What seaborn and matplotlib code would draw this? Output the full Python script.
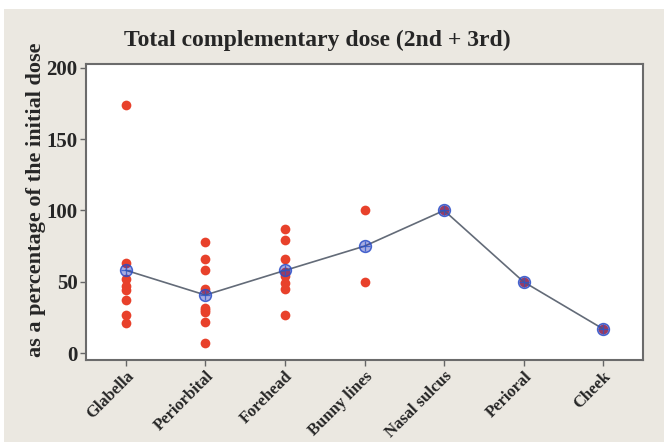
import pandas as pd
import matplotlib.pyplot as plt
import seaborn as sns
from matplotlib.patches import Rectangle

# regiones y dosis complementaria (% de la dosis inicial)
regiones = ['Glabella', 'Periorbital', 'Forehead', 'Bunny lines', 'Nasal sulcus', 'Perioral', 'Cheek']
glabella = [174, 63, 52, 47, 44, 37, 27, 21]
periorbital = [78, 66, 58, 45, 32, 30, 29, 22, 7]
forehead = [87, 79, 66, 57, 54, 49, 45, 27]
bunny = [100, 50]
nasal = [100]
perioral = [50]
cheek = [17]

valores = [glabella, periorbital, forehead, bunny, nasal, perioral, cheek]
data = pd.DataFrame({
    'region': [r for r, v in zip(regiones, valores) for _ in v],
    'dosis': [x for v in valores for x in v],
})

fondo = '#ebe8e1'
rojo = '#e8412b'
azul = '#2b55c8'

sns.set_style('white')
plt.rcParams['font.family'] = ['Liberation Serif', 'DejaVu Serif']

fig = plt.figure(figsize=(6.68, 4.48), dpi=100, facecolor='white')
fig.patches.append(Rectangle((4/668, 6/448), 660/668, 433/448, transform=fig.transFigure,
                             facecolor=fondo, edgecolor='none', zorder=-1))
ax = fig.add_axes([86/668, 1 - 360/448, 557/668, 296/448])
ax.set_facecolor('white')

# puntos individuales
sns.stripplot(data=data, x='region', y='dosis', order=regiones, jitter=False,
              color=rojo, size=7, linewidth=0, ax=ax, zorder=2)

# medias unidas por una linea
sns.pointplot(data=data, x='region', y='dosis', order=regiones, errorbar=None,
              color='#636b78', markers='o', linestyles='-', linewidth=1.2,
              markersize=8.5, markerfacecolor=(0.15, 0.2, 0.72, 0.4),
              markeredgecolor=(0.17, 0.3, 0.78, 0.85), markeredgewidth=1.1, ax=ax, zorder=3)
sns.pointplot(data=data, x='region', y='dosis', order=regiones, errorbar=None,
              color=azul, markers='+', linestyles='none', markersize=7.5,
              markeredgewidth=0.9, alpha=0.8, ax=ax, zorder=4)

ax.set_xlim(-0.5, 6.5)
ax.set_ylim(-4.7, 202.5)
ax.set_yticks([0, 50, 100, 150, 200])
ax.set_xlabel('')
ax.set_ylabel('as a percentage of the initial dose', fontsize=16, fontweight='bold')
ax.yaxis.set_label_coords(-0.072, 0.54)
ax.tick_params(axis='both', direction='out', length=4, color='#666666', width=1,
               bottom=True, left=True, pad=2)
ax.tick_params(axis='y', labelsize=15)
for lbl in ax.get_yticklabels():
    lbl.set_fontweight('bold')
ax.set_xticks(range(len(regiones)))
ax.set_xticklabels(regiones, rotation=45, ha='right', rotation_mode='anchor',
                   fontsize=12, fontweight='bold')
for s in ax.spines.values():
    s.set_color('#6b6b6b')
    s.set_linewidth(1.5)

fig.text(317/668, 1 - 40/448, 'Total complementary dose (2nd + 3rd)', ha='center', va='center',
         fontsize=17, fontweight='bold')

fig.savefig('out.png', dpi=100, facecolor=fig.get_facecolor())
